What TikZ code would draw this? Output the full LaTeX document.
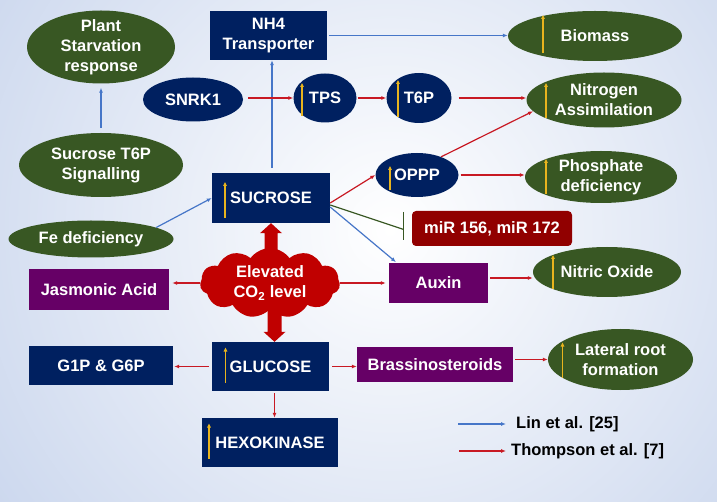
\documentclass[tikz,border=0pt]{standalone}
\usepackage{fontspec}
\setmainfont{Liberation Sans}
\usetikzlibrary{shapes.geometric,shapes.symbols,arrows.meta,calc}
\definecolor{navy}{RGB}{0,32,96}
\definecolor{leaf}{RGB}{56,87,35}
\definecolor{plum}{RGB}{102,0,102}
\definecolor{mirred}{RGB}{145,0,0}
\definecolor{cloudred}{RGB}{192,0,0}
\definecolor{lnred}{RGB}{200,25,35}
\definecolor{lnblue}{RGB}{70,118,200}
\definecolor{gold}{RGB}{232,180,30}
\definecolor{bgblue}{RGB}{168,188,226}
\newcommand\yup[4]{\draw[yarr] ([xshift=#2pt,yshift=-#3pt]#1.center) -- ([xshift=#2pt,yshift=-#4pt]#1.center);}
\begin{document}
\begin{tikzpicture}[x=1pt,y=-1pt,
  every node/.style={font=\fontsize{16.5}{20}\selectfont\bfseries, text=white, align=center, inner sep=0pt},
  gell/.style={ellipse, fill=leaf, inner xsep=-4pt, inner ysep=-12pt},
  bell/.style={ellipse, fill=navy, inner xsep=-4pt, inner ysep=-12pt},
  nbox/.style={rectangle, fill=navy},
  pbox/.style={rectangle, fill=plum},
  mbox/.style={rectangle, fill=mirred, rounded corners=4pt},
  redarr/.style={draw=lnred, line width=1.2pt, -{Latex[length=5pt,width=4pt]}},
  bluearr/.style={draw=lnblue, line width=1.2pt, -{Latex[length=5pt,width=4pt]}},
  inhib/.style={draw=leaf, line width=1.2pt},
  yarr/.style={draw=gold, line width=1.4pt, -{Triangle[length=4pt,width=3.5pt]}},
  bigarr/.style={fill=cloudred}
]
\useasboundingbox (0,0) rectangle (717,502);
\fill[bgblue] (0,0) rectangle (717,502);
\begin{scope}
  \clip (0,0) rectangle (717,502);
  \shade[inner color=white, outer color=bgblue] (390,230) circle (820pt);
\end{scope}

% nodes
\node[gell, minimum width=148pt, minimum height=73pt] (plant) at (101,47) {Plant\\Starvation\\response};
\node[nbox, minimum width=117pt, minimum height=49pt] (nh4) at (268.5,35.5) {NH4\\Transporter};
\node[bell, minimum width=100pt, minimum height=44pt] (snrk) at (193,99.5) {SNRK1};
\node[bell, minimum width=63pt, minimum height=49pt] (tps) at (325,98) {TPS};
\node[bell, minimum width=65pt, minimum height=50pt] (t6p) at (419,98) {T6P};
\node[gell, minimum width=174pt, minimum height=50pt] (bio) at (595,36) {Biomass};
\node[gell, minimum width=155pt, minimum height=55pt] (nit) at (604,100) {Nitrogen\\Assimilation};
\node[bell, minimum width=83pt, minimum height=44pt] (oppp) at (417,175) {OPPP};
\node[gell, minimum width=152pt, minimum height=52pt] (phos) at (601,177) {Phosphate\\deficiency};
\node[mbox, minimum width=160pt, minimum height=35pt] (mir) at (492,228.5) {miR 156, miR 172};
\node[gell, minimum width=164pt, minimum height=64pt] (sig) at (101,165) {Sucrose T6P\\Signalling};
\node[nbox, minimum width=118pt, minimum height=50pt] (suc) at (271,198) {SUCROSE};
\node[gell, minimum width=165pt, minimum height=37pt] (fe) at (91,239) {Fe deficiency};
\node[pbox, minimum width=140pt, minimum height=41pt] (jas) at (99,289.5) {Jasmonic Acid};
\node[pbox, minimum width=99pt, minimum height=40pt] (aux) at (438.5,283) {Auxin};
\node[gell, minimum width=148pt, minimum height=50pt] (no) at (607,272) {Nitric Oxide};
\node[nbox, minimum width=144pt, minimum height=39pt] (g1p) at (101,365.5) {G1P \& G6P};
\node[nbox, minimum width=117pt, minimum height=49pt] (glu) at (270.5,366.5) {GLUCOSE};
\node[nbox, minimum width=136pt, minimum height=49pt] (hex) at (270,442.5) {HEXOKINASE};
\node[pbox, minimum width=156pt, minimum height=35pt] (bra) at (435,364.5) {Brassinosteroids};
\node[gell, minimum width=145pt, minimum height=61pt] (lat) at (620.5,359.5) {Lateral root\\formation};

% thick arrows from the cloud
\fill[bigarr] (suc.south) -- ++(11,10) -- ++(-4.5,0) -- ++(0,40) -- ++(-13,0) -- ++(0,-40) -- ++(-4.5,0) -- cycle;
\fill[bigarr] ([xshift=4pt]glu.north) -- ++(11,-10) -- ++(-4,0) -- ++(0,-40) -- ++(-14,0) -- ++(0,40) -- ++(-4,0) -- cycle;

\node[cloud, cloud puffs=11, cloud puff arc=110, cloud ignores aspect, fill=cloudred, minimum width=140pt, minimum height=70pt, inner sep=-8pt] (co2) at (270,283) {Elevated\\CO\textsubscript{2} level};

% blue connectors
\draw[bluearr, shorten <=5pt, shorten >=4pt] (sig.north) -- (plant.south);
\draw[bluearr, shorten <=5pt] ([xshift=1pt]suc.north) -- ([xshift=1pt]suc.north |- nh4.south);
\draw[bluearr, shorten <=2pt] (nh4.east) -- (nh4.east -| bio.west);
\draw[bluearr] (fe.10) -- (suc.west);
\draw[bluearr, shorten >=1pt] ([yshift=-9pt]suc.east) -- ([xshift=8pt]aux.north west);

% red connectors
\draw[redarr, shorten <=5pt] (snrk.east |- tps.west) -- (tps.west);
\draw[redarr, shorten <=1pt] (tps) -- (t6p);
\draw[redarr, shorten <=7pt] (t6p.east) -- (t6p.east -| nit.west);
\draw[redarr] (oppp.37) -- (nit.189);
\draw[redarr, shorten <=2pt] (oppp.east) -- (oppp.east -| phos.west);
\draw[redarr] ([yshift=-5pt]suc.east) -- (oppp.west);
\draw[redarr, shorten >=3pt] (co2.west) -- (co2.west -| jas.east);
\draw[redarr, shorten >=3pt] (co2.east) -- (co2.east -| aux.west);
\draw[redarr, shorten <=2pt] ([yshift=5pt]aux.east) -- ([yshift=5pt]aux.east -| no.west);
\draw[redarr, shorten <=3pt, shorten >=1pt] (glu.west) -- (glu.west -| g1p.east);
\draw[redarr, shorten <=3pt] (glu.east) -- (glu.east -| bra.west);
\draw[redarr, shorten <=2pt] ([yshift=5pt]bra.east) -- ([yshift=5pt]bra.east -| lat.west);
\draw[redarr, shorten <=2pt] ([xshift=4pt]glu.south) -- ([xshift=4pt]glu.south |- hex.north);

% inhibition
\coordinate (tb) at ([xshift=-8pt]mir.west);
\draw[inhib] ([yshift=-7pt]suc.east) -- ([yshift=-1pt]tb);
\draw[inhib] ([yshift=16.5pt]tb) -- ([yshift=-11.5pt]tb);

% yellow up arrows
\yup{tps}{-23}{18}{-15}
\yup{t6p}{-21}{19}{-18}
\yup{bio}{-52}{17}{-21}
\yup{nit}{-58}{18}{-17}
\yup{oppp}{-27}{15}{-9}
\yup{phos}{-55}{17}{-18}
\yup{suc}{-46}{20}{-16}
\yup{no}{-54}{17}{-17}
\yup{glu}{-45}{16}{-19}
\yup{hex}{-61}{16}{-19}
\yup{lat}{-58}{18}{-17}

% legend
\coordinate (la1) at (458,424);
\coordinate (la2) at (506,424);
\coordinate (lb1) at (459,451);
\coordinate (lb2) at (506,451);
\draw[bluearr] (la1) -- (la2);
\draw[redarr] (lb1) -- (lb2);
\node[anchor=west, text=black] (lt1) at (516,424) {Lin et al. [25]};
\node[anchor=west, text=black] (lt2) at (511,451) {Thompson et al. [7]};
\end{tikzpicture}
\end{document}
